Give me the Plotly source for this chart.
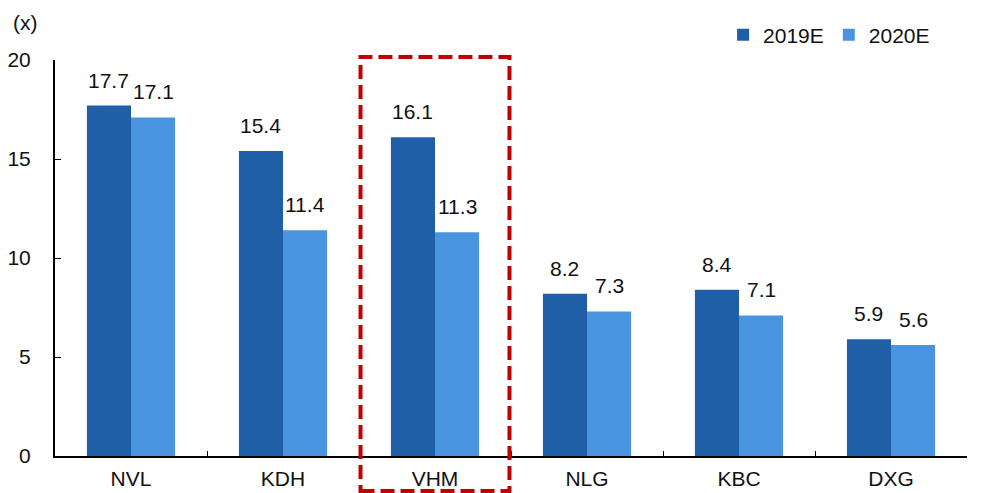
import plotly.graph_objects as go

categories = ["NVL", "KDH", "VHM", "NLG", "KBC", "DXG"]
series_names = ["2019E", "2020E"]
values_2019 = [17.7, 15.4, 16.1, 8.2, 8.4, 5.9]
values_2020 = [17.1, 11.4, 11.3, 7.3, 7.1, 5.6]
y_ticks = [0, 5, 10, 15, 20]
highlight = "VHM"

colors = ["#1F5FA7", "#4A94DF"]
FONT = "Liberation Sans, Arial, sans-serif"
FS = 21

W, H = 988, 493
ML, MR, MT, MB = 55, 21, 60, 37

fig = go.Figure()
for name, vals, col in zip(series_names, [values_2019, values_2020], colors):
    fig.add_trace(go.Bar(
        x=categories, y=vals, name=name, marker=dict(color=col, line=dict(width=0)),
    ))

# value labels
plot_w = W - ML - MR
bar_px = plot_w / len(categories) * (1 - 0.42) / 2
for si, vals in enumerate([values_2019, values_2020]):
    shift = (-0.5 if si == 0 else 0.5) * bar_px
    for c, v in zip(categories, vals):
        fig.add_annotation(x=c, y=v, text=f"{v:.1f}", showarrow=False,
                           xshift=shift, yshift=12, yanchor="bottom",
                           font=dict(size=FS, color="#111111", family=FONT))

# highlight box
idx = categories.index(highlight)
n = len(categories)
plot_h = H - MT - MB
fig.add_shape(type="rect", xref="paper", yref="paper",
              x0=(idx + 0.01) / n, x1=(idx + 0.99) / n,
              y0=-35 / plot_h, y1=1 + 3 / plot_h,
              line=dict(color="#C00000", width=4, dash="14px,6px"),
              fillcolor="rgba(0,0,0,0)", layer="above")

fig.add_annotation(x=0, y=1, xref="paper", yref="paper", xanchor="left", yanchor="middle",
                   xshift=-44, yshift=38, text="(x)", showarrow=False,
                   font=dict(size=FS, color="#111111", family=FONT))

fig.update_layout(
    width=W, height=H,
    margin=dict(l=ML, r=MR, t=MT, b=MB, autoexpand=False),
    paper_bgcolor="white", plot_bgcolor="white",
    barmode="group", bargap=0.42, bargroupgap=0,
    font=dict(family=FONT, size=FS, color="#111111"),
    showlegend=True,
    legend=dict(orientation="h", x=0.965, xanchor="right", y=1.0 + 25 / plot_h, yanchor="middle",
                xref="paper", yref="paper",
                font=dict(size=FS, family=FONT, color="#111111"),
                itemwidth=30, tracegroupgap=0, bgcolor="rgba(0,0,0,0)"),
    xaxis=dict(type="category", showline=True, linecolor="black", linewidth=2,
               ticks="inside", ticklen=5, tickcolor="black", tickwidth=1,
               tickson="boundaries", ticklabelstandoff=3, automargin=False,
               showgrid=False, zeroline=False, range=[-0.5, n - 0.5],
               tickfont=dict(size=FS, family=FONT, color="#111111")),
    yaxis=dict(range=[0, 20], tickvals=y_ticks, showline=True, linecolor="black",
               linewidth=2, ticks="inside", ticklen=6, tickcolor="black", automargin=False,
               showgrid=False, zeroline=False, ticklabelstandoff=18,
               tickfont=dict(size=FS, family=FONT, color="#111111")),
)

fig.write_html("out.html")
